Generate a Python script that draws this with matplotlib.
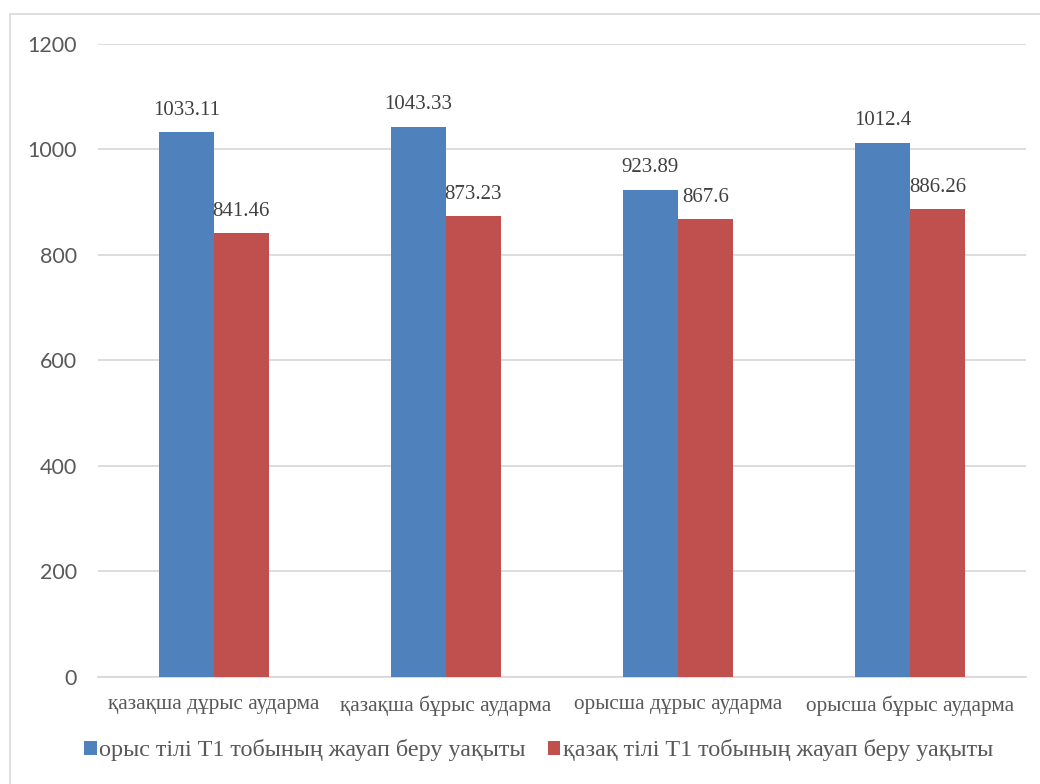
import numpy as np
import matplotlib.pyplot as plt
from matplotlib.patches import Rectangle

# Санаттар мен екі топтың мәндері
categories = ['қазақша дұрыс аударма', 'қазақша бұрыс аударма',
              'орысша дұрыс аударма', 'орысша бұрыс аударма']
russian_group = [1033.11, 1043.33, 923.89, 1012.4]
kazakh_group = [841.46, 873.23, 867.6, 886.26]
series_names = ['орыс тілі Т1 тобының жауап беру уақыты',
                'қазақ тілі Т1 тобының жауап беру уақыты']

blue = '#4F81BD'
red = '#C0504D'

fig = plt.figure(figsize=(10.4, 7.84), dpi=100)
ax = fig.add_axes([0.094, 0.1365, 0.8925, 0.8074])

# рамка диаграмманың айналасында
fig.patches.append(Rectangle((10 / 1040, -0.1), 1.2, 0.1 + (784 - 14) / 784,
                             transform=fig.transFigure, fill=False,
                             edgecolor='#d9d9d9', linewidth=1.2))

x = np.arange(len(categories))
w = 0.237
b1 = ax.bar(x - w / 2, russian_group, w, color=blue, label=series_names[0], zorder=3)
b2 = ax.bar(x + w / 2, kazakh_group, w, color=red, label=series_names[1], zorder=3)

for bars, vals in ((b1, russian_group), (b2, kazakh_group)):
    for rect, v in zip(bars, vals):
        ax.annotate(f'{v:g}', (rect.get_x() + rect.get_width() / 2, v),
                    xytext=(0, 9), textcoords='offset points', ha='center', va='bottom',
                    family='Liberation Serif', fontsize=15, color='#404040')

ax.set_xlim(-0.5, len(categories) - 0.5)
ax.set_ylim(0, 1200)
ax.set_yticks(np.arange(0, 1201, 200))
ax.yaxis.grid(True, color='#d9d9d9', linewidth=1.3, zorder=0)
ax.set_axisbelow(True)

for s in ('top', 'right', 'left'):
    ax.spines[s].set_visible(False)
ax.spines['bottom'].set_color('#d9d9d9')
ax.spines['bottom'].set_linewidth(1.3)

ax.tick_params(axis='both', length=0)
ax.tick_params(axis='y', labelsize=15.5, labelcolor='#595959', pad=15)
for lbl in ax.get_yticklabels():
    lbl.set_family('Lato')
ax.set_xticks(x)
ax.set_xticklabels(categories, family='Liberation Serif', fontsize=15.3, color='#595959')
ax.tick_params(axis='x', pad=13)

leg = fig.legend(loc='center', bbox_to_anchor=(0.518, 0.043), ncol=2, frameon=False,
                 prop={'family': 'Liberation Serif', 'size': 17.4},
                 handlelength=0.5, handleheight=0.5, handletextpad=0.12, columnspacing=0.9)
for t in leg.get_texts():
    t.set_color('#595959')

fig.savefig('out.png', dpi=100)
